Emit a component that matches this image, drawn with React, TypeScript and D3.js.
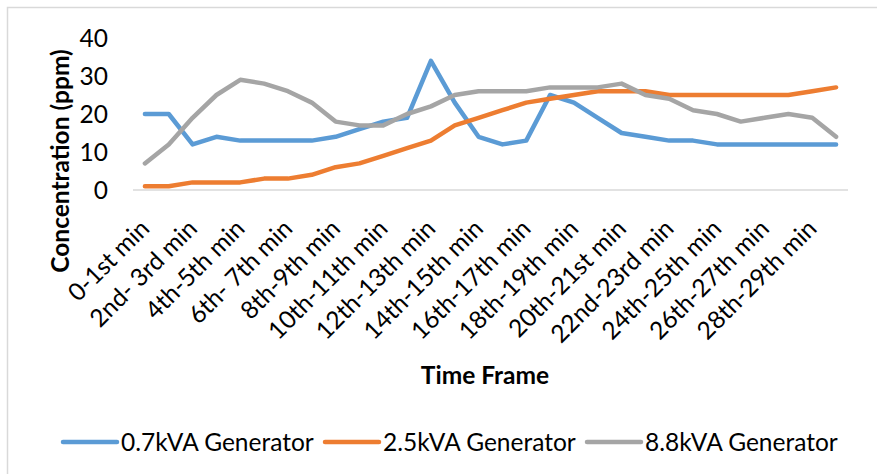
import React, { useEffect, useRef } from 'react';
import * as d3 from 'd3';

const W = 877;
const H = 474;

const categories = [
  '0-1st min', '1st-2nd min', '2nd- 3rd min', '3rd-4th min', '4th-5th min',
  '5th-6th min', '6th- 7th min', '7th-8th min', '8th-9th min', '9th-10th min',
  '10th-11th min', '11th-12th min', '12th-13th min', '13th-14th min', '14th-15th min',
  '15th-16th min', '16th-17th min', '17th-18th min', '18th-19th min', '19th-20th min',
  '20th-21st min', '21st-22nd min', '22nd-23rd min', '23rd-24th min', '24th-25th min',
  '25th-26th min', '26th-27th min', '27th-28th min', '28th-29th min', '29th-30th min',
];

const gen07 = [20, 20, 12, 14, 13, 13, 13, 13, 14, 16, 18, 19, 34, 23, 14, 12, 13, 25, 23, 19, 15, 14, 13, 13, 12, 12, 12, 12, 12, 12];
const gen25 = [1, 1, 2, 2, 2, 3, 3, 4, 6, 7, 9, 11, 13, 17, 19, 21, 23, 24, 25, 26, 26, 26, 25, 25, 25, 25, 25, 25, 26, 27];
const gen88 = [7, 12, 19, 25, 29, 28, 26, 23, 18, 17, 17, 20, 22, 25, 26, 26, 26, 27, 27, 27, 28, 25, 24, 21, 20, 18, 19, 20, 19, 14];

const seriesNames = ['0.7kVA Generator', '2.5kVA Generator', '8.8kVA Generator'];
const seriesColors = ['#5B9BD5', '#ED7D31', '#A5A5A5'];
const yTicks = [0, 10, 20, 30, 40];

const FONT = 'Lato, "Open Sans", sans-serif';
const FS = 24.5;

export default function App() {
  const ref = useRef<SVGSVGElement | null>(null);

  useEffect(() => {
    const el = ref.current;
    if (!el) return;
    const svg = d3.select(el);
    svg.selectAll('*').remove();

    const x = d3.scaleBand<string>().domain(categories).range([133, 848]);
    const y = d3.scaleLinear().domain([0, 40]).range([190, 38]);
    const cx = (c: string) => (x(c) || 0) + x.bandwidth() / 2;

    svg.append('rect')
      .attr('x', 7.5).attr('y', 7.5)
      .attr('width', W).attr('height', H)
      .attr('fill', '#fff')
      .attr('stroke', '#D9D9D9')
      .attr('stroke-width', 1.5);

    // category axis line
    svg.append('line')
      .attr('x1', x.range()[0]).attr('x2', x.range()[1])
      .attr('y1', y(0)).attr('y2', y(0))
      .attr('stroke', '#D9D9D9')
      .attr('stroke-width', 1.5);

    svg.append('g')
      .selectAll('text')
      .data(yTicks)
      .join('text')
      .attr('x', 108)
      .attr('y', (d) => y(d))
      .attr('dy', '0.36em')
      .attr('text-anchor', 'end')
      .attr('font-family', FONT)
      .attr('font-size', FS)
      .attr('fill', '#000')
      .text((d) => d);

    // every second category gets a label
    svg.append('g')
      .selectAll('text')
      .data(categories.filter((_, i) => i % 2 === 0))
      .join('text')
      .attr('transform', (d) => `translate(${cx(d) + 6},${y(0) + 40}) rotate(-45)`)
      .attr('text-anchor', 'end')
      .attr('font-family', FONT)
      .attr('font-size', FS)
      .attr('fill', '#000')
      .text((d) => d);

    const line = d3.line<number>()
      .x((_, i) => cx(categories[i]))
      .y((d) => y(d));

    [gen07, gen25, gen88].forEach((vals, k) => {
      svg.append('path')
        .datum(vals)
        .attr('d', line)
        .attr('fill', 'none')
        .attr('stroke', seriesColors[k])
        .attr('stroke-width', 4.5)
        .attr('stroke-linejoin', 'round')
        .attr('stroke-linecap', 'round');
    });

    svg.append('text')
      .attr('transform', 'translate(69,161) rotate(-90)')
      .attr('text-anchor', 'middle')
      .attr('font-family', FONT)
      .attr('font-weight', 'bold')
      .attr('font-size', FS)
      .text('Concentration (ppm)');

    svg.append('text')
      .attr('x', 485)
      .attr('y', 384)
      .attr('text-anchor', 'middle')
      .attr('font-family', FONT)
      .attr('font-weight', 'bold')
      .attr('font-size', FS)
      .text('Time Frame');

    const legendX = [63, 325, 587];
    const legend = svg.append('g');
    seriesNames.forEach((name, k) => {
      const g = legend.append('g').attr('transform', `translate(${legendX[k]},442)`);
      g.append('line')
        .attr('x1', 0).attr('x2', 54)
        .attr('stroke', seriesColors[k])
        .attr('stroke-width', 4.5)
        .attr('stroke-linecap', 'round');
      g.append('text')
        .attr('x', 58)
        .attr('dy', '0.36em')
        .attr('font-family', FONT)
        .attr('font-size', FS)
        .text(name);
    });
  }, []);

  return (
    <div style={{ position: 'fixed', left: 0, top: 0 }}>
      <svg ref={ref} width={W} height={H} style={{ display: 'block' }} />
    </div>
  );
}
